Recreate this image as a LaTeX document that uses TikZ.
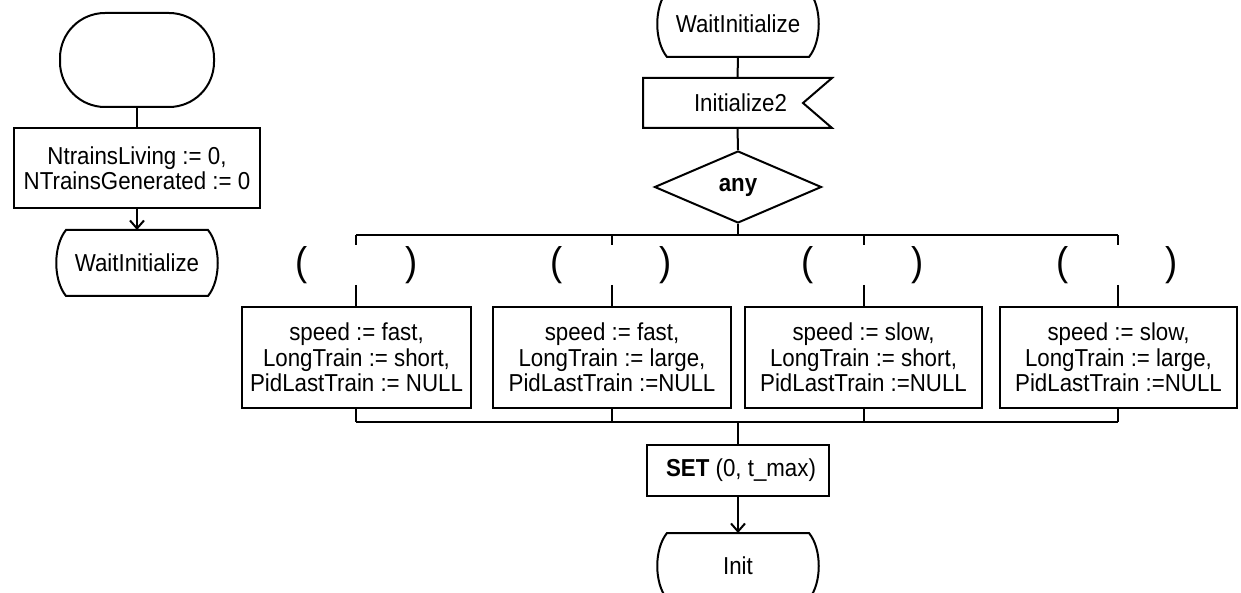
\documentclass[tikz,border=0pt]{standalone}
\usepackage{fontspec}
\setmainfont{Liberation Sans}[FakeStretch=0.91]
\usetikzlibrary{arrows.meta,shapes.geometric,calc}
\tikzset{
  txt/.style={font=\fontsize{24.5}{25.5}\selectfont, align=center},
  statenode/.style={txt, minimum width=140pt, minimum height=64pt, inner sep=0pt},
  actbox/.style={txt, draw, minimum height=101pt, inner sep=2pt},
  paren/.style={font=\fontsize{40}{42}\selectfont, inner sep=0pt},
  arr/.style={-{Straight Barb[length=8pt,width=14pt]}},
}
\newcommand{\mystate}[4]{%
  \node[statenode] (#1) at (#2,#3) {#4};
  \draw (#1.north west) -- (#1.north east)
    .. controls +(13,16) and +(13,-16) .. (#1.south east) -- (#1.south west)
    .. controls +(-13,-16) and +(-13,16) .. (#1.north west) -- cycle;
}
\begin{document}
\begin{tikzpicture}[x=1pt,y=-1pt,line width=2pt]
\useasboundingbox (0,0) rectangle (1241,593);
% left column
\node[draw, minimum width=154pt, minimum height=94pt, rounded corners=45pt] (start) at (137,60) {};
\node[txt, draw, minimum width=246pt, minimum height=80pt, inner sep=2pt] (init0) at (137,168) {NtrainsLiving := 0,\\NTrainsGenerated := 0};
\mystate{wl}{137}{263}{WaitInitialize}
\draw (start) -- (init0);
\draw[arr] (init0.south) -- (wl.north);
% top of main column
\mystate{wt}{738}{24}{WaitInitialize}
\node[txt, minimum width=187pt, minimum height=48pt, inner sep=0pt] (in2) at (737.5,103) {\hspace*{6pt}Initialize2};
\draw (in2.north west) -- (in2.north east) -- ($(in2.east)+(-29,0)$) -- (in2.south east) -- (in2.south west) -- cycle;
\node[draw, diamond, minimum width=167pt, minimum height=72pt, inner sep=0pt, txt, font=\fontsize{24.5}{25.5}\selectfont\bfseries] (any) at (738,187) {any};
\draw (wt.south) -- (in2.north);
\draw (in2.south) -- (any.north);
% branch bar
\coordinate (t1) at (356,235);
\coordinate (t2) at (612,235);
\coordinate (t3) at (864,235);
\coordinate (t4) at (1118,235);
\draw (any.south) -- (any.south |- t1);
\draw (t1) -- (t4);
% branch boxes
\node[actbox, minimum width=229pt] (b1) at (356.5,357.5) {speed := fast,\\LongTrain := short,\\PidLastTrain := NULL};
\node[actbox, minimum width=238pt] (b2) at (612,357.5) {speed := fast,\\LongTrain := large,\\PidLastTrain :=NULL};
\node[actbox, minimum width=237pt] (b3) at (863.5,357.5) {speed := slow,\\LongTrain := short,\\PidLastTrain :=NULL};
\node[actbox, minimum width=237pt] (b4) at (1118.5,357.5) {speed := slow,\\LongTrain := large,\\PidLastTrain :=NULL};
% parentheses
\node[paren] (p1l) at (302,265.5) {(};
\node[paren] (p1r) at (412,265.5) {)};
\node[paren] (p2l) at (557,265.5) {(};
\node[paren] (p2r) at (666,265.5) {)};
\node[paren] (p3l) at (808,265.5) {(};
\node[paren] (p3r) at (918,265.5) {)};
\node[paren] (p4l) at (1063,265.5) {(};
\node[paren] (p4r) at (1172,265.5) {)};
% branch lines with gap
\coordinate (g1a) at (356,245); \coordinate (g1b) at (356,285);
\coordinate (g2a) at (612,245); \coordinate (g2b) at (612,285);
\coordinate (g3a) at (864,245); \coordinate (g3b) at (864,285);
\coordinate (g4a) at (1118,245); \coordinate (g4b) at (1118,285);
\draw (t1) -- (g1a); \draw (g1b) -- (g1b |- b1.north);
\draw (t2) -- (g2a); \draw (g2b) -- (g2b |- b2.north);
\draw (t3) -- (g3a); \draw (g3b) -- (g3b |- b3.north);
\draw (t4) -- (g4a); \draw (g4b) -- (g4b |- b4.north);
% join bar
\coordinate (u1) at (356,422);
\coordinate (u2) at (612,422);
\coordinate (u3) at (864,422);
\coordinate (u4) at (1118,422);
\draw (u1 |- b1.south) -- (u1);
\draw (u2 |- b2.south) -- (u2);
\draw (u3 |- b3.south) -- (u3);
\draw (u4 |- b4.south) -- (u4);
\draw (u1) -- (u4);
% bottom
\node[txt, draw, minimum width=182pt, minimum height=51pt, inner sep=2pt] (set) at (738,470.5) {\hspace*{6pt}\textbf{SET} (0, t\_max)};
\draw (set.north |- u1) -- (set.north);
\mystate{ini}{738}{566}{Init}
\draw[arr] (set.south) -- (ini.north);
\end{tikzpicture}
\end{document}
